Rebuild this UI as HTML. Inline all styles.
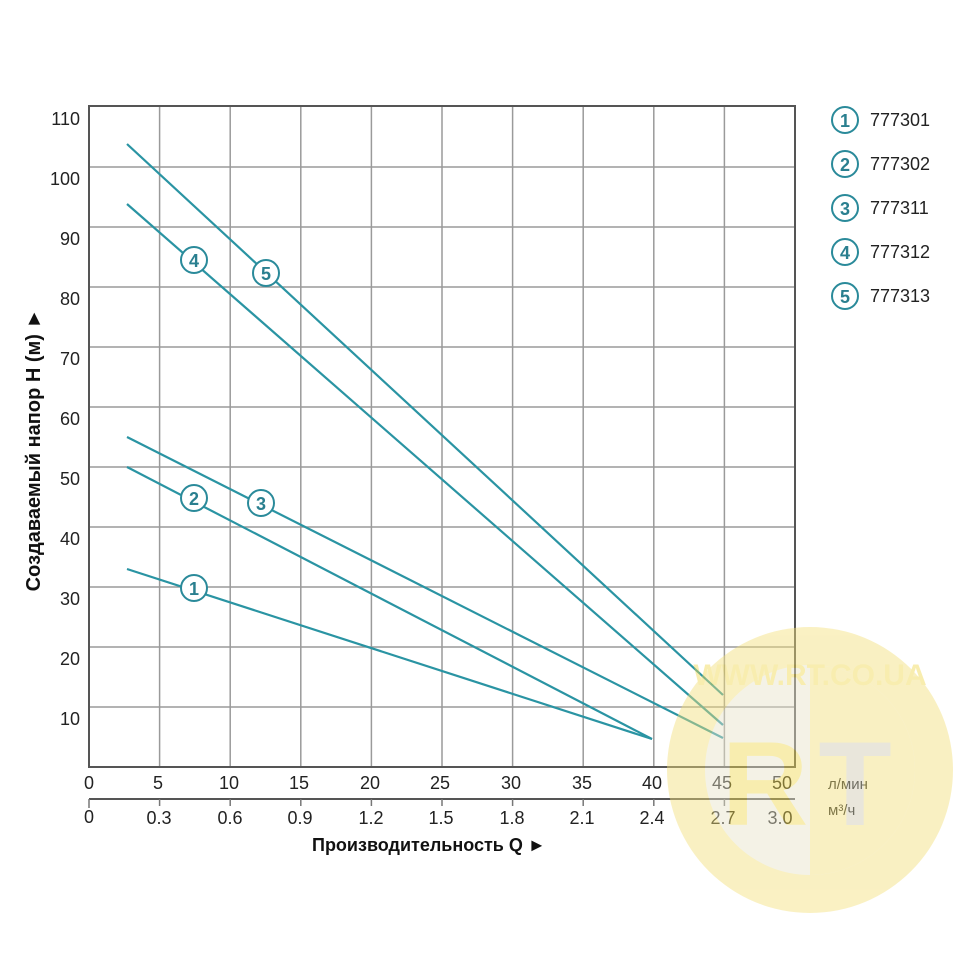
<!DOCTYPE html>
<html><head><meta charset="utf-8"><style>html,body{margin:0;padding:0;background:#fff}svg{display:block}</style></head><body>
<svg width="960" height="960" xmlns="http://www.w3.org/2000/svg" font-family="Liberation Sans, Arial, sans-serif">
<rect width="960" height="960" fill="#fff"/>
<g stroke="#9a9a9a" stroke-width="1.5">
<line x1="159.6" y1="106" x2="159.6" y2="767"/><line x1="230.2" y1="106" x2="230.2" y2="767"/><line x1="300.8" y1="106" x2="300.8" y2="767"/><line x1="371.4" y1="106" x2="371.4" y2="767"/><line x1="442" y1="106" x2="442" y2="767"/><line x1="512.6" y1="106" x2="512.6" y2="767"/><line x1="583.2" y1="106" x2="583.2" y2="767"/><line x1="653.8" y1="106" x2="653.8" y2="767"/><line x1="724.4" y1="106" x2="724.4" y2="767"/>
<line x1="89" y1="167" x2="795" y2="167"/><line x1="89" y1="227" x2="795" y2="227"/><line x1="89" y1="287" x2="795" y2="287"/><line x1="89" y1="347" x2="795" y2="347"/><line x1="89" y1="407" x2="795" y2="407"/><line x1="89" y1="467" x2="795" y2="467"/><line x1="89" y1="527" x2="795" y2="527"/><line x1="89" y1="587" x2="795" y2="587"/><line x1="89" y1="647" x2="795" y2="647"/><line x1="89" y1="707" x2="795" y2="707"/>
</g>
<rect x="89" y="106" width="706" height="661" fill="none" stroke="#555" stroke-width="2"/>
<g fill="#222" font-size="18" text-anchor="end">
<text x="80" y="125">110</text><text x="80" y="185">100</text><text x="80" y="245">90</text><text x="80" y="305">80</text><text x="80" y="365">70</text><text x="80" y="425">60</text><text x="80" y="485">50</text><text x="80" y="545">40</text><text x="80" y="605">30</text><text x="80" y="665">20</text><text x="80" y="725">10</text>
</g>
<line x1="89" y1="799" x2="795" y2="799" stroke="#555" stroke-width="2"/>
<g stroke="#777" stroke-width="1.5"><line x1="89" y1="799" x2="89" y2="808"/><line x1="159.6" y1="799" x2="159.6" y2="806"/><line x1="230.2" y1="799" x2="230.2" y2="806"/><line x1="300.8" y1="799" x2="300.8" y2="806"/><line x1="371.4" y1="799" x2="371.4" y2="806"/><line x1="442" y1="799" x2="442" y2="806"/><line x1="512.6" y1="799" x2="512.6" y2="806"/><line x1="583.2" y1="799" x2="583.2" y2="806"/><line x1="653.8" y1="799" x2="653.8" y2="806"/><line x1="724.4" y1="799" x2="724.4" y2="806"/></g>
<g fill="#222" font-size="18" text-anchor="middle">
<text x="89" y="789">0</text><text x="158" y="789">5</text><text x="229" y="789">10</text><text x="299" y="789">15</text><text x="370" y="789">20</text><text x="440" y="789">25</text><text x="511" y="789">30</text><text x="582" y="789">35</text><text x="652" y="789">40</text><text x="722" y="789">45</text><text x="782" y="789">50</text>
<text x="89" y="823">0</text><text x="159" y="824">0.3</text><text x="230" y="824">0.6</text><text x="300" y="824">0.9</text><text x="371" y="824">1.2</text><text x="441" y="824">1.5</text><text x="512" y="824">1.8</text><text x="582" y="824">2.1</text><text x="652" y="824">2.4</text><text x="723" y="824">2.7</text><text x="780" y="824">3.0</text>
</g>
<text x="828" y="789" font-size="15" fill="#222">л/мин</text>
<text x="828" y="815" font-size="15" fill="#222">м³/ч</text>
<text x="312" y="851" font-size="18" font-weight="bold" fill="#111">Производительность Q ►</text>
<text transform="translate(40,450) rotate(-90)" text-anchor="middle" font-size="20" font-weight="bold" fill="#111">Создаваемый напор Н (м) ►</text>
<g stroke="#2a94a3" stroke-width="2.2" fill="none">
<line x1="127" y1="144" x2="723" y2="695"/>
<line x1="127" y1="204" x2="723" y2="725"/>
<line x1="127" y1="437" x2="723" y2="738"/>
<line x1="127" y1="467" x2="652" y2="739"/>
<line x1="127" y1="569" x2="652" y2="739"/>
</g>
<g font-size="18" font-weight="bold" fill="#2a7f8f" text-anchor="middle">
<circle cx="194" cy="260" r="13" fill="#fff" stroke="#2a8a9a" stroke-width="2"/><text x="194" y="267">4</text>
<circle cx="266" cy="273" r="13" fill="#fff" stroke="#2a8a9a" stroke-width="2"/><text x="266" y="280">5</text>
<circle cx="194" cy="498" r="13" fill="#fff" stroke="#2a8a9a" stroke-width="2"/><text x="194" y="505">2</text>
<circle cx="261" cy="503" r="13" fill="#fff" stroke="#2a8a9a" stroke-width="2"/><text x="261" y="510">3</text>
<circle cx="194" cy="588" r="13" fill="#fff" stroke="#2a8a9a" stroke-width="2"/><text x="194" y="595">1</text>
<circle cx="845" cy="120" r="13" fill="#fff" stroke="#2a8a9a" stroke-width="2"/><text x="845" y="127">1</text>
<circle cx="845" cy="164" r="13" fill="#fff" stroke="#2a8a9a" stroke-width="2"/><text x="845" y="171">2</text>
<circle cx="845" cy="208" r="13" fill="#fff" stroke="#2a8a9a" stroke-width="2"/><text x="845" y="215">3</text>
<circle cx="845" cy="252" r="13" fill="#fff" stroke="#2a8a9a" stroke-width="2"/><text x="845" y="259">4</text>
<circle cx="845" cy="296" r="13" fill="#fff" stroke="#2a8a9a" stroke-width="2"/><text x="845" y="303">5</text>
</g>
<g font-size="18" fill="#222">
<text x="870" y="126">777301</text><text x="870" y="170">777302</text><text x="870" y="214">777311</text><text x="870" y="258">777312</text><text x="870" y="302">777313</text>
</g>
<g opacity="0.45">
<circle cx="810" cy="770" r="143" fill="#f3e07a"/>
<circle cx="810" cy="770" r="105" fill="#e8e4c8"/>
<path d="M810 665 A105 105 0 0 1 810 875 Z" fill="#f3e07a"/>
<text x="765" y="825" font-size="120" font-weight="bold" fill="#f0d850" text-anchor="middle">R</text>
<text x="855" y="825" font-size="120" font-weight="bold" fill="#cfcab0" text-anchor="middle">T</text>
<text x="810" y="685" font-size="30" font-weight="bold" fill="#f0d850" text-anchor="middle">WWW.RT.CO.UA</text>
</g>
</svg>
</body></html>
